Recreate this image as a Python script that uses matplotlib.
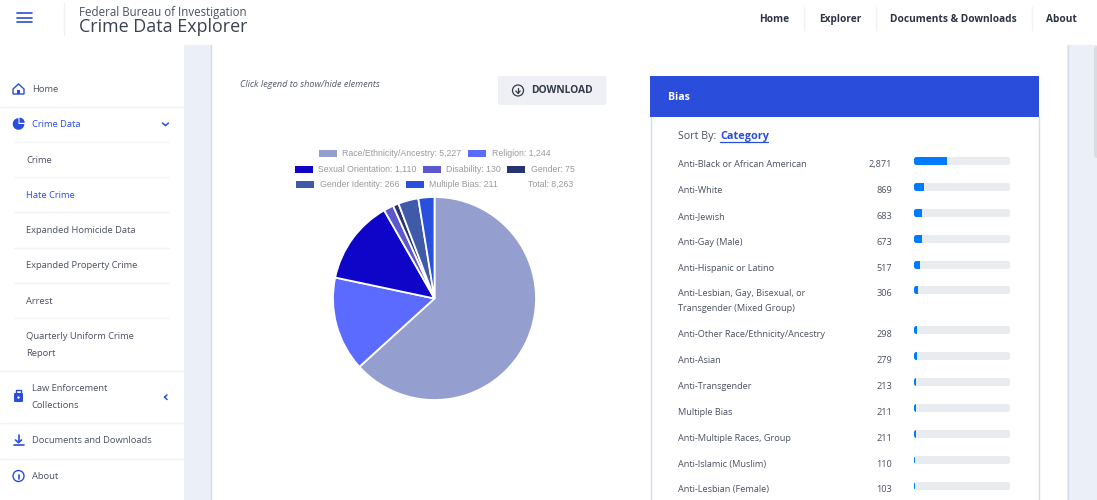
import matplotlib
matplotlib.use("Agg")
import matplotlib.pyplot as plt
from matplotlib.patches import Rectangle, FancyBboxPatch, Circle, Wedge, Polygon

W, H = 1097, 500
plt.rcParams['font.family'] = ['Open Sans', 'DejaVu Sans']

# ---------- data ----------
pie_categories = ["Race/Ethnicity/Ancestry", "Religion", "Sexual Orientation", "Disability",
                  "Gender", "Gender Identity", "Multiple Bias"]
pie_values = [5227, 1244, 1110, 130, 75, 266, 211]
pie_colors = ["#959FCF", "#5C6BFF", "#0F05C8", "#5B57CC", "#26356F", "#3F5AA8", "#2950DC"]
total_value = 8263

bias_labels = ["Anti-Black or African American", "Anti-White", "Anti-Jewish", "Anti-Gay (Male)",
               "Anti-Hispanic or Latino", "Anti-Lesbian, Gay, Bisexual, or\nTransgender (Mixed Group)",
               "Anti-Other Race/Ethnicity/Ancestry", "Anti-Asian", "Anti-Transgender", "Multiple Bias",
               "Anti-Multiple Races, Group", "Anti-Islamic (Muslim)", "Anti-Lesbian (Female)"]
bias_values = [2871, 869, 683, 673, 517, 306, 298, 279, 213, 211, 211, 110, 103]

side_items = ["Home", "Crime Data", "Crime", "Hate Crime", "Expanded Homicide Data",
              "Expanded Property Crime", "Arrest", "Quarterly Uniform Crime\nReport",
              "Law Enforcement\nCollections", "Documents and Downloads", "About"]
nav_items = ["Home", "Explorer", "Documents & Downloads", "About"]

# ---------- layout ----------
BLUE = "#2A4EDB"
TXT = "#4A5160"
fig = plt.figure(figsize=(W / 100, H / 100), dpi=100, facecolor="white")
ax = fig.add_axes([0, 0, 1, 1])
ax.set_xlim(0, W)
ax.set_ylim(H, 0)
ax.axis("off")


def rect(x0, y0, x1, y1, c, z=1):
    ax.add_patch(Rectangle((x0, y0), x1 - x0, y1 - y0, fc=c, ec="none", zorder=z))


def line(x0, y0, x1, y1, c="#F0F2F6", lw=1, z=2):
    ax.plot([x0, x1], [y0, y1], color=c, lw=lw, zorder=z, solid_capstyle="round")


def text(x, y, s, size=6.5, c=TXT, **kw):
    ax.text(x, y + 0.8, s, fontsize=size, color=c, zorder=5, va="center", **kw)


# page panels
rect(184, 45, 211, H, "#EBEFF8")
rect(1067, 45, W, H, "#EBEFF8")
line(210.5, 45, 210.5, H, "#D3DBEA", 1, 3)
line(1067.5, 45, 1067.5, H, "#D3DBEA", 1, 3)
ax.add_patch(FancyBboxPatch((1094, 46), 6, 112, boxstyle="round,pad=0,rounding_size=3",
                            fc="#DADCE0", ec="none", zorder=3))

# header
for y in (13.3, 17.8, 22.2):
    line(17, y, 31.5, y, BLUE, 1.2)
line(63.5, 3, 63.5, 35, "#EEF0F4", 1)
text(79, 11.5, "Federal Bureau of Investigation", 8.3, "#4A5160")
text(79, 26, "Crime Data Explorer", 12.85, "#3A4150")
nav_x = [774.5, 840, 953.5, 1061.5]
for x, s in zip(nav_x, nav_items):
    text(x, 18.5, s, 7.3, "#2B3345", ha="center", fontweight="bold")
for x in (803.5, 875.5, 1031.5):
    line(x, 7, x, 30, "#F0F2F5", 1)

# sidebar
side_y = [88.5, 124, 159.5, 194.5, 229.5, 265, 300.5, 335.5, 387.5, 440, 476]
side_x = [32, 32, 26, 26, 26, 26, 26, 26, 31.5, 32, 32]
side_col = [TXT, BLUE, TXT, BLUE, TXT, TXT, TXT, TXT, TXT, TXT, TXT]
for x, y, s, c in zip(side_x, side_y, side_items, side_col):
    for i, part in enumerate(s.split("\n")):
        text(x, y + i * 17.4, part, 6.75, c, fontweight="medium")
for y in (106.5, 371, 422.5, 458.5):
    line(0, y, 184, y, "#F1F3F6")
for y in (141.5, 177, 212, 247.5, 282.5, 318):
    line(14, y, 169, y, "#F1F3F6")

# sidebar icons
ax.add_patch(Polygon([(13, 89), (18.5, 84), (24, 89), (24, 94), (13, 94)], closed=True,
                     fc="none", ec=BLUE, lw=1, zorder=4))
rect(17, 90, 20, 94, BLUE, 4)
ax.add_patch(Wedge((18.5, 124), 5.8, 0, 270, fc=BLUE, ec="none", zorder=4))
ax.add_patch(Wedge((19.5, 122.8), 5.2, 270, 360, fc=BLUE, ec="none", zorder=4))
line(162.5, 123, 165.5, 125.5, BLUE, 1.1)
line(165.5, 125.5, 168.5, 123, BLUE, 1.1)
ax.add_patch(FancyBboxPatch((14, 393), 9, 9, boxstyle="round,pad=0,rounding_size=1",
                            fc=BLUE, ec="none", zorder=4))
ax.plot([16, 16, 21, 21], [393, 390, 390, 393], color=BLUE, lw=1, zorder=4)
ax.add_patch(Circle((18.5, 397.5), 1.2, fc="white", ec="none", zorder=5))
line(167, 395, 164.5, 397, BLUE, 1.1)
line(164.5, 397, 167, 399.5, BLUE, 1.1)
line(18.5, 435, 18.5, 442, BLUE, 1.2)
line(15.5, 440, 18.5, 442.5, BLUE, 1.2)
line(21.5, 440, 18.5, 442.5, BLUE, 1.2)
line(14, 445, 23.5, 445, BLUE, 1.2)
ax.add_patch(Circle((18.5, 476), 5.5, fc="none", ec=BLUE, lw=1, zorder=4))
line(18.5, 475, 18.5, 479, BLUE, 1.2)
line(18.5, 473, 18.5, 473.1, BLUE, 1.2)

# chart controls
text(239.5, 84, "Click legend to show/hide elements", 6.6, "#555B66", style="italic")
ax.add_patch(FancyBboxPatch((498, 76), 108.5, 29, boxstyle="round,pad=0,rounding_size=2",
                            fc="#EEF0F5", ec="none", zorder=2))
ax.add_patch(Circle((518, 90.5), 5.5, fc="none", ec="#333A46", lw=0.9, zorder=4))
line(518, 87.5, 518, 93, "#333A46", 0.9, 4)
line(515.8, 91, 518, 93.2, "#333A46", 0.9, 4)
line(520.2, 91, 518, 93.2, "#333A46", 0.9, 4)
text(531.5, 90, "DOWNLOAD", 7.4, "#333A46", fontweight="bold")

# legend
LEG = ["Liberation Sans", "DejaVu Sans"]
leg_swatch_x = [319, 468, 295, 423, 507, 296, 406]
leg_text_x = [342.5, 491.5, 318, 446, 531, 320, 429]
leg_y = [153, 153, 169, 169, 169, 184.5, 184.5]
labels = [f"{c}: {v:,}" for c, v in zip(pie_categories, pie_values)]
for sx, tx, y, c, s in zip(leg_swatch_x, leg_text_x, leg_y, pie_colors, labels):
    rect(sx, y - 3.5, sx + 18, y + 3.5, c, 3)
    ax.text(tx, y, s, fontsize=6.3, color="#9A9A9A", va="center", family=LEG, zorder=5)
ax.text(527.5, 184.5, f"Total: {total_value:,}", fontsize=6.3, color="#9A9A9A", va="center",
        family=LEG, zorder=5)

# pie
cx, cy, r = 434.5, 298.5, 101.5
pax = fig.add_axes([(cx - r) / W, 1 - (cy + r) / H, 2 * r / W, 2 * r / H])
pax.pie(pie_values, colors=pie_colors, startangle=90, counterclock=False, radius=1,
        wedgeprops=dict(edgecolor="white", linewidth=1.3))
pax.set_xlim(-1, 1)
pax.set_ylim(-1, 1)
pax.patch.set_alpha(0)

# bias panel
rect(650, 76, 1039, 117, BLUE, 2)
line(650.5, 117, 650.5, H, "#D6DBEA", 1, 3)
line(1038.5, 117, 1038.5, H, "#D6DBEA", 1, 3)
text(668, 96.5, "Bias", 7.6, "white", fontweight="bold")
text(678.5, 135.5, "Sort By:", 7.7, "#4A5160")
text(720, 135.5, "Category", 7.8, BLUE, fontweight="bold")
line(720, 142.3, 768, 142.3, BLUE, 0.9)

row_y = [163.5, 189.5, 215.5, 241.5, 267.5, 293, 333.5, 359.5, 385.5, 411.5, 437.5, 463.5, 489]
bar_y = [161, 187, 213, 239, 265, 290, 330, 356, 382, 408, 434, 460, 486]
tx0, tx1 = 914, 1010
tracks = []
for y, by, s, v in zip(row_y, bar_y, bias_labels, bias_values):
    for i, part in enumerate(s.split("\n")):
        text(678.5, y + i * 15, part, 6.6, TXT)
    text(892, y, f"{v:,}", 6.6, TXT, ha="right")
    tr = FancyBboxPatch((tx0, by - 4), tx1 - tx0, 8, boxstyle="round,pad=0,rounding_size=2.5",
                        fc="#E9ECEF", ec="none", zorder=2)
    ax.add_patch(tr)
    tracks.append(tr)

# progress bars on their own value scale, clipped to the rounded tracks
bax = fig.add_axes([tx0 / W, 0, (tx1 - tx0) / W, 1])
bax.set_xlim(0, total_value)
bax.set_ylim(H, 0)
bax.axis("off")
bars = bax.barh(bar_y, bias_values, height=8, color="#007BFF", zorder=3)
for b, tr in zip(bars, tracks):
    b.set_clip_path(tr)

fig.savefig("out.png", dpi=100)
